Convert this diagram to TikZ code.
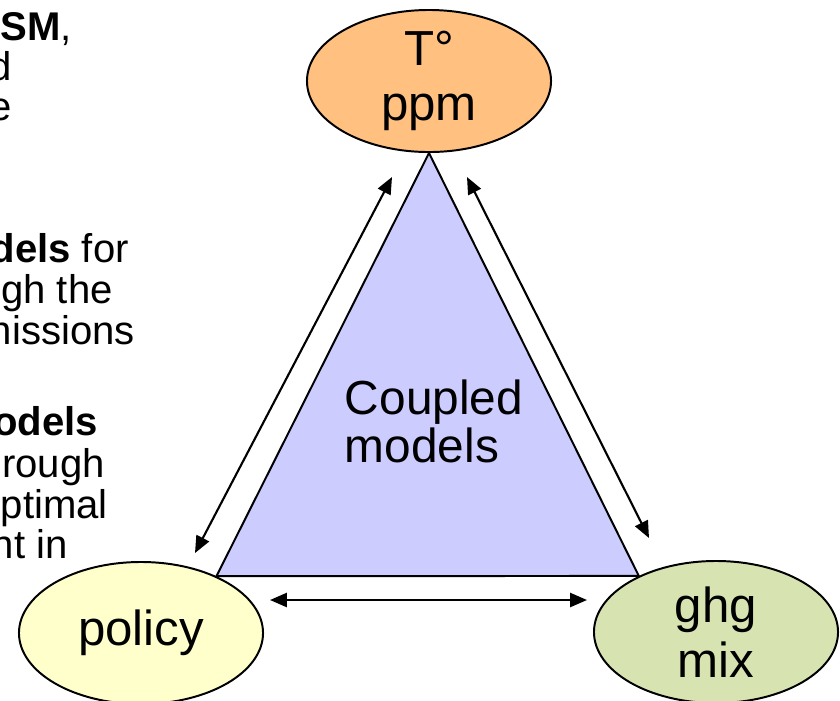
\documentclass[tikz,border=0pt]{standalone}
\usepackage{fontspec}
\setmainfont{Liberation Sans}
\usetikzlibrary{shapes.geometric,arrows.meta,positioning}
\pgfdeclarelayer{background}
\pgfsetlayers{background,main}
\definecolor{tempfill}{RGB}{255,192,128}
\definecolor{corefill}{RGB}{204,204,255}
\definecolor{policyfill}{RGB}{255,255,204}
\definecolor{mixfill}{RGB}{215,228,178}
\tikzset{
  blob/.style={ellipse,draw,line width=1.4pt,minimum width=6.1cm,minimum height=3.55cm,
    inner sep=0pt,align=center,font=\fontsize{35}{39}\selectfont},
  link/.style={{Triangle[length=12pt,width=10pt]}-{Triangle[length=12pt,width=10pt]},line width=1.5pt},
  note/.style={anchor=base east,inner sep=0pt,font=\fontsize{28.5}{29}\selectfont}
}

\begin{document}
\begin{tikzpicture}[x=0.025cm,y=-0.025cm]
   \useasboundingbox (0,0) rectangle (840,700);
   % the three models
   \node [blob,fill=tempfill] (temp) at (429,81) {T°\\ppm};
   \node [blob,fill=policyfill] (policy) at (141,633) {policy};
   \node [blob,fill=mixfill] (mix) at (716,632) {ghg\\mix};
   \node [align=left,font=\fontsize{34}{34}\selectfont] (core) at (434,421) {Coupled\\models};
   \begin{pgfonlayer}{background}
     \draw [line width=1.4pt,fill=corefill] (temp.south) -- (policy.37) -- (mix.144) -- cycle;
   \end{pgfonlayer}
   % links
   \coordinate (lt) at (392,177); \coordinate (lb) at (195,553);
   \coordinate (rt) at (467,177); \coordinate (rb) at (649,538);
   \coordinate (bl) at (270,600); \coordinate (br) at (587,600);
   \draw [link] (lt) -- (lb);
   \draw [link] (rt) -- (rb);
   \draw [link] (bl) -- (br);
   % text cut at the left edge
   \foreach \txt/\xe/\yb [count=\i] in {{\textbf{SM},}/72/40, d/12/80, e/12/120,
       {\textbf{dels} for}/129/262, gh the/113/303, nissions/135/344,
       {\textbf{odels}}/98/435, rough/105/477, ptimal/108/518, nt in/68/558}
     \node [note] (note\i) at (\xe,\yb) {\txt};
\end{tikzpicture}
\end{document}
